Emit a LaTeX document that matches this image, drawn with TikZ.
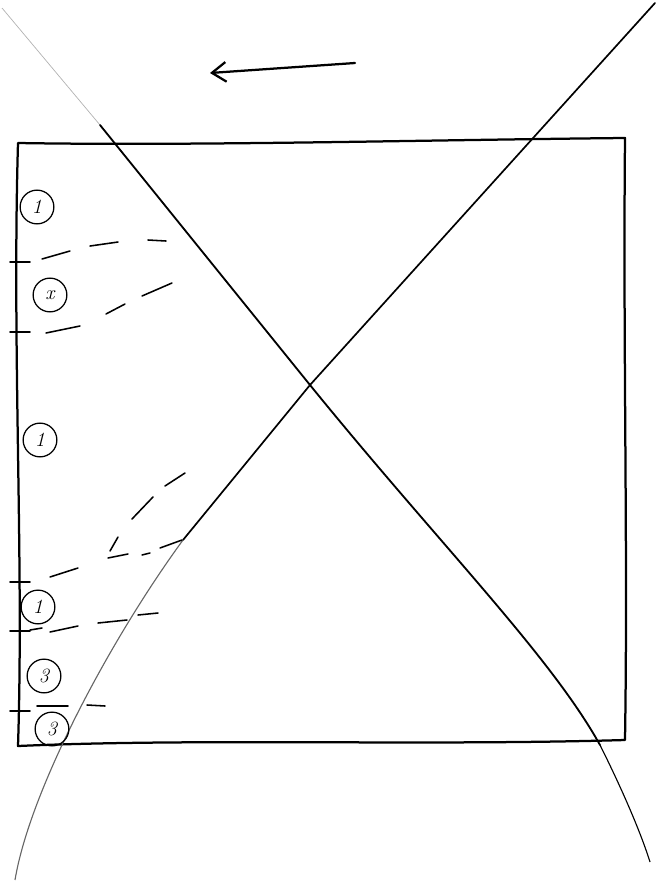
\documentclass[tikz,border=0pt]{standalone}
\usetikzlibrary{arrows.meta}
\begin{document}
\begin{tikzpicture}[>={Straight Barb[length=10pt,width=14pt]},x=0.025cm,y=-0.025cm,
  pen/.style={line width=1.6pt,line cap=round,line join=round},
  dsh/.style={line width=1.1pt,line cap=round},
  lab/.style={draw,line width=0.9pt,circle,minimum size=24pt,inner sep=0pt,font=\itshape\Large}]
\useasboundingbox (0,0) rectangle (660,889);
% box
\draw[pen] (18,143) .. controls (200,146) and (420,140) .. (625,138)
  .. controls (623,350) and (628,550) .. (625,740)
  .. controls (420,746) and (200,738) .. (18,746)
  .. controls (24,560) and (12,350) .. cycle;
% crossing lines
\draw[gray!60,line width=0.5pt] (2,8) -- (100,125);
\draw[pen,line width=1.3pt] (100,125) -- (310,385) .. controls (440,545) and (550,655) .. (600,745);
\draw[line width=0.8pt] (600,745) .. controls (620,785) and (640,830) .. (650,862);
\draw[pen,line width=1.2pt] (655,3) -- (310,385) -- (183,540);
\draw[gray!80!black,line width=0.8pt] (183,540) .. controls (110,640) and (30,790) .. (15,880);
% arrow
\draw[->,pen] (355,63) -- (210,73);
% ticks on left edge
\foreach \y in {262,332,582,631,711} \draw[pen,line width=1.2pt] (10,\y) -- (30,\y);
% dashed guides
\draw[dsh] (42,259) -- (70,251) (90,246) -- (118,242) (148,240) -- (166,241);
\draw[dsh] (46,333) -- (80,326) (106,314) -- (125,304) (142,296) -- (172,283);
\draw[dsh] (165,486) -- (185,473) (132,519) -- (153,497) (118,537) -- (110,551)
  (108,558) -- (128,554) (142,555) -- (150,553) (160,548) -- (182,540);
\draw[dsh] (50,577) -- (78,568);
\draw[dsh] (30,630) -- (42,628) (50,632) -- (78,626) (98,623) -- (127,620) (138,615) -- (158,613);
\draw[dsh] (37,706) -- (68,706) (87,705) -- (105,706);
% circled marks
\node[lab] (m1) at (37,207) {1};
\node[lab] (m2) at (50,295) {x};
\node[lab] (m3) at (40,440) {1};
\node[lab] (m4) at (38,607) {1};
\node[lab] (m5) at (44,676) {3};
\node[lab] (m6) at (52,729) {3};
\end{tikzpicture}
\end{document}
